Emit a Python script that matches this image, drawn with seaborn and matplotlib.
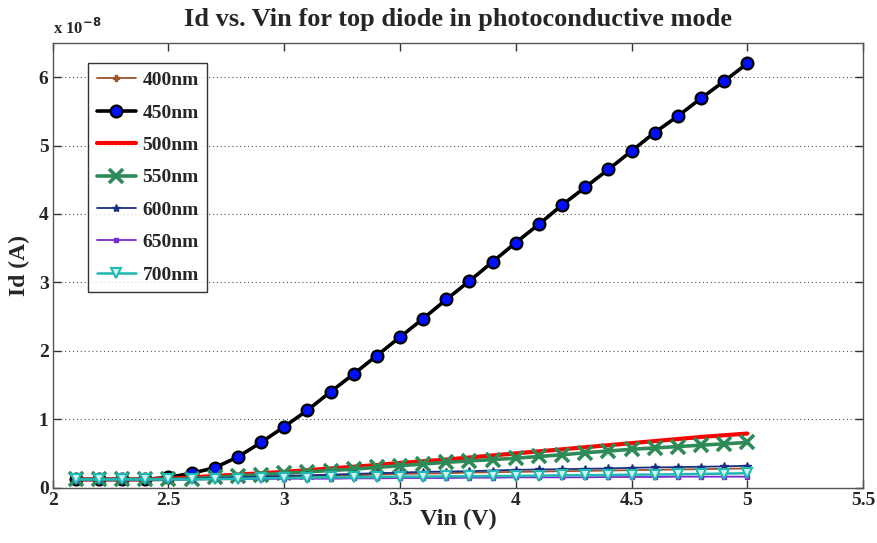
import numpy as np
import pandas as pd
import matplotlib
matplotlib.use("Agg")
import matplotlib.pyplot as plt
import seaborn as sns

# Bias voltage sweep (V)
vin = [2.1, 2.2, 2.3, 2.4, 2.5, 2.6, 2.7, 2.8, 2.9, 3.0,
       3.1, 3.2, 3.3, 3.4, 3.5, 3.6, 3.7, 3.8, 3.9, 4.0,
       4.1, 4.2, 4.3, 4.4, 4.5, 4.6, 4.7, 4.8, 4.9, 5.0]

# Diode current, in units of 1e-8 A
id_400 = [0.12, 0.12, 0.12, 0.12, 0.12, 0.13, 0.135, 0.14, 0.15, 0.16,
          0.17, 0.175, 0.18, 0.19, 0.20, 0.205, 0.21, 0.22, 0.225, 0.23,
          0.235, 0.24, 0.245, 0.25, 0.255, 0.26, 0.265, 0.27, 0.275, 0.28]
id_450 = [0.12, 0.12, 0.12, 0.12, 0.15, 0.21, 0.29, 0.45, 0.66, 0.89,
          1.13, 1.40, 1.66, 1.93, 2.20, 2.47, 2.75, 3.02, 3.30, 3.58,
          3.85, 4.13, 4.39, 4.65, 4.92, 5.19, 5.43, 5.69, 5.94, 6.20]
id_500 = [0.12, 0.12, 0.12, 0.12, 0.13, 0.15, 0.17, 0.19, 0.21, 0.23,
          0.255, 0.28, 0.305, 0.33, 0.36, 0.385, 0.41, 0.44, 0.47, 0.50,
          0.53, 0.56, 0.59, 0.62, 0.65, 0.68, 0.71, 0.74, 0.765, 0.79]
id_550 = [0.12, 0.12, 0.12, 0.12, 0.12, 0.13, 0.15, 0.17, 0.19, 0.21,
          0.23, 0.25, 0.27, 0.295, 0.32, 0.345, 0.37, 0.39, 0.41, 0.43,
          0.455, 0.48, 0.51, 0.535, 0.56, 0.58, 0.60, 0.62, 0.64, 0.66]
id_600 = [0.12, 0.12, 0.12, 0.12, 0.12, 0.13, 0.14, 0.15, 0.16, 0.17,
          0.18, 0.19, 0.20, 0.21, 0.22, 0.23, 0.235, 0.24, 0.25, 0.26,
          0.265, 0.27, 0.275, 0.28, 0.29, 0.295, 0.30, 0.305, 0.31, 0.32]
id_650 = [0.12, 0.12, 0.12, 0.12, 0.12, 0.12, 0.12, 0.125, 0.125, 0.13,
          0.13, 0.13, 0.135, 0.135, 0.14, 0.14, 0.14, 0.145, 0.145, 0.15,
          0.15, 0.15, 0.15, 0.155, 0.155, 0.155, 0.16, 0.16, 0.16, 0.16]
id_700 = [0.12, 0.12, 0.12, 0.12, 0.12, 0.12, 0.125, 0.13, 0.135, 0.14,
          0.145, 0.15, 0.15, 0.155, 0.16, 0.16, 0.165, 0.165, 0.17, 0.17,
          0.175, 0.18, 0.18, 0.185, 0.19, 0.19, 0.195, 0.20, 0.205, 0.21]

labels = ["400nm", "450nm", "500nm", "550nm", "600nm", "650nm", "700nm"]
series = [id_400, id_450, id_500, id_550, id_600, id_650, id_700]

styles = {
    "400nm": dict(color="#A0522D", lw=1.3, marker="P", ms=4, mfc="#A0522D", mec="#A0522D"),
    "450nm": dict(color="black", lw=2.6, marker="o", ms=8.5, mfc="#0010FF", mec="black", mew=1.6),
    "500nm": dict(color="#FF0000", lw=3.0, marker=None),
    "550nm": dict(color="#2E8B57", lw=2.6, marker="x", ms=10, mfc="#2E8B57", mec="#2E8B57", mew=2.6),
    "600nm": dict(color="#1A2F80", lw=1.3, marker="*", ms=6, mfc="#1A2F80", mec="#1A2F80"),
    "650nm": dict(color="#7A2BD0", lw=1.3, marker="s", ms=3.5, mfc="#7A2BD0", mec="#7A2BD0"),
    "700nm": dict(color="#20B8B0", lw=1.8, marker="v", ms=6.5, mfc="#CFF5F2", mec="#20B8B0", mew=1.5),
}

sns.set_style("ticks")
serif = ["Liberation Serif", "DejaVu Serif"]
plt.rcParams["font.family"] = serif
plt.rcParams["font.weight"] = "bold"

fig = plt.figure(figsize=(8.78, 5.43), dpi=100)
ax = fig.add_axes([0.060, 0.102, 0.923, 0.819])

for lab, vals in zip(labels, series):
    st = styles[lab]
    kw = dict(color=st["color"], linewidth=st["lw"])
    if st["marker"] is not None:
        kw.update(marker=st["marker"], markersize=st["ms"],
                  markerfacecolor=st["mfc"], markeredgecolor=st["mec"],
                  markeredgewidth=st.get("mew", 1.0))
    sns.lineplot(x=vin, y=vals, ax=ax, label=lab, **kw)

ax.set_xlim(2, 5.5)
ax.set_ylim(0, 6.5)
ax.set_xticks([2, 2.5, 3, 3.5, 4, 4.5, 5, 5.5])
ax.set_xticklabels(["2", "2.5", "3", "3.5", "4", "4.5", "5", "5.5"])
ax.set_yticks([0, 1, 2, 3, 4, 5, 6])

ax.yaxis.grid(True, linestyle=(0, (1, 2.5)), color="#555555", linewidth=0.8)
ax.xaxis.grid(False)

for side in ["top", "right", "bottom", "left"]:
    ax.spines[side].set_visible(True)
    ax.spines[side].set_color("#555555")
    ax.spines[side].set_linewidth(1.0)

ax.tick_params(direction="in", top=True, right=True, length=6, width=1,
               color="#333333", labelsize=14, pad=3)
for t in ax.get_xticklabels() + ax.get_yticklabels():
    t.set_fontweight("bold")

ax.set_title("Id vs. Vin for top diode in photoconductive mode",
             fontsize=19, fontweight="bold", pad=12)
ax.set_xlabel("Vin (V)", fontsize=17.5, fontweight="bold", labelpad=0)
ax.set_ylabel("Id (A)", fontsize=17, fontweight="bold", labelpad=6)
ax.text(0.0, 1.012, r"x 10$^{-8}$", transform=ax.transAxes, fontsize=12,
        fontweight="bold", ha="left", va="bottom")

leg = ax.legend(loc="upper left", bbox_to_anchor=(0.0436, 0.955), fontsize=14,
                frameon=True, fancybox=False, edgecolor="black",
                handlelength=2.0, borderpad=0.45, labelspacing=0.76,
                handletextpad=0.35, borderaxespad=0)
leg.get_frame().set_linewidth(1.0)
for t in leg.get_texts():
    t.set_fontweight("bold")

fig.savefig("out.png", dpi=100)
